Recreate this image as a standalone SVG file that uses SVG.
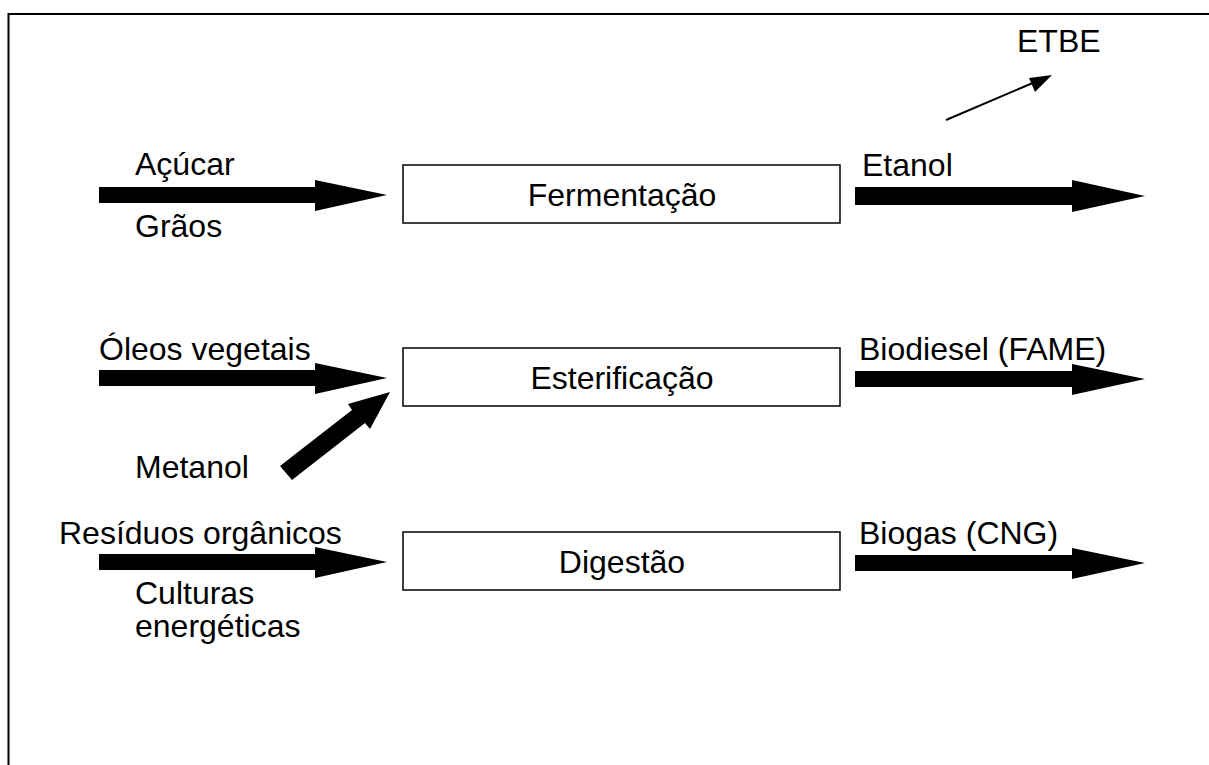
<svg xmlns="http://www.w3.org/2000/svg" width="1209" height="765" viewBox="0 0 1209 765">
<defs>
<style>
text{font-family:"Liberation Sans",Arial,sans-serif;font-size:32px;fill:#000}
.box{fill:#fff;stroke:#000;stroke-width:1.5}
.c{text-anchor:middle}
</style>
</defs>
<rect width="1209" height="765" fill="#fff"/>
<path d="M8.5,765V14H1209" fill="none" stroke="#000" stroke-width="2"/>
<g id="connectors" fill="#000">
<path d="M99,187H315V180L387,195L315,211V203H99z"/>
<path d="M855,187H1072V180L1145,196L1072,212V205H855z"/>
<path d="M99,370H315V363L387,378L315,394V386H99z"/>
<path d="M855,371H1072V364L1145,379L1072,395V387H855z"/>
<path d="M99,554H315V547L387,562L315,578V570H99z"/>
<path d="M855,555H1072V548L1145,563L1072,579V571H855z"/>
<path d="M280,466L352,410L348,404L390,392L370,429L365,423L292,480z"/>
<line x1="946" y1="120" x2="1042" y2="79" stroke="#000" stroke-width="2"/>
<path d="M1052,75L1035,92L1029,78z"/>
</g>
<g id="fermentacao"><rect class="box" x="403" y="165" width="437" height="58"/><text class="c" x="622" y="206">Fermentação</text></g>
<g id="esterificacao"><rect class="box" x="403" y="348" width="437" height="58"/><text class="c" x="622" y="389">Esterificação</text></g>
<g id="digestao"><rect class="box" x="403" y="532" width="437" height="58"/><text class="c" x="622" y="573">Digestão</text></g>
<g id="labels">
<text x="135" y="175">Açúcar</text>
<text x="135" y="237">Grãos</text>
<text x="862" y="176">Etanol</text>
<text x="1017" y="52">ETBE</text>
<text x="99" y="360">Óleos vegetais</text>
<text x="135" y="478">Metanol</text>
<text x="859" y="360">Biodiesel (FAME)</text>
<text x="59" y="544">Resíduos orgânicos</text>
<text x="135" y="604">Culturas</text>
<text x="135" y="637">energéticas</text>
<text x="859" y="544">Biogas (CNG)</text>
</g>
</svg>
